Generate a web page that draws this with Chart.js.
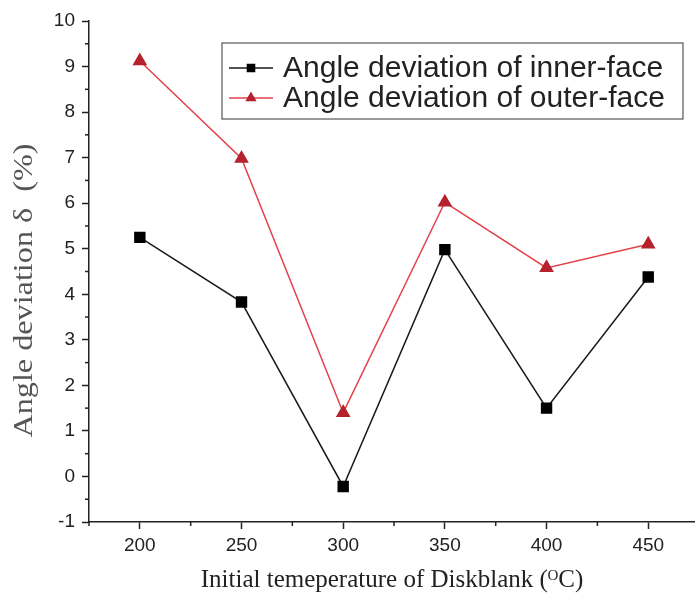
<!DOCTYPE html>
<html>
<head>
<meta charset="utf-8">
<script src="https://cdn.jsdelivr.net/npm/chart.js@4.4.1/dist/chart.umd.min.js"></script>
<style>
  html, body { margin: 0; padding: 0; background: #fff; overflow: hidden; }
  #wrap { width: 695px; height: 599px; }
</style>
</head>
<body>
<div id="wrap"><canvas id="chart"></canvas></div>
<script>
// data
const temperatures = [200, 250, 300, 350, 400, 450];
const innerFace = [5.25, 3.83, -0.22, 4.98, 1.5, 4.38];
const outerFace = [9.12, 6.98, 1.4, 6.02, 4.58, 5.1];
const seriesNames = ['Angle deviation of inner-face', 'Angle deviation of outer-face'];
const xLabelTicks = [200, 250, 300, 350, 400, 450];
const yLabelTicks = [-1, 0, 1, 2, 3, 4, 5, 6, 7, 8, 9, 10];
const yTitle = 'Angle deviation \u03B4  (%)';

const axisColor = '#222';

// short ticks between the labelled ones
const minorTicks = {
    id: 'minorTicks',
    afterDraw(chart) {
        const ctx = chart.ctx;
        const xs = chart.scales.x, ys = chart.scales.y;
        ctx.save();
        ctx.strokeStyle = axisColor;
        ctx.lineWidth = 1.5;
        xs.ticks.forEach(t => {
            if (xLabelTicks.includes(t.value)) return;
            const px = xs.getPixelForValue(t.value);
            ctx.beginPath();
            ctx.moveTo(px, xs.top);
            ctx.lineTo(px, xs.top + 4);
            ctx.stroke();
        });
        ys.ticks.forEach(t => {
            if (yLabelTicks.includes(t.value)) return;
            const py = ys.getPixelForValue(t.value);
            ctx.beginPath();
            ctx.moveTo(ys.right, py);
            ctx.lineTo(ys.right - 4, py);
            ctx.stroke();
        });
        ctx.restore();
    }
};

// rotated y title, a little wide like the original scan
const yAxisTitle = {
    id: 'yAxisTitle',
    afterDraw(chart) {
        const ctx = chart.ctx;
        const area = chart.chartArea;
        ctx.save();
        ctx.translate(25, (area.top + area.bottom) / 2 + 19);
        ctx.rotate(-Math.PI / 2);
        ctx.scale(1.15, 1);
        ctx.fillStyle = '#555';
        ctx.font = '28px "Liberation Serif", "Times New Roman", serif';
        ctx.textAlign = 'center';
        ctx.textBaseline = 'middle';
        ctx.fillText(yTitle, 0, 0);
        ctx.restore();
    }
};

// boxed legend inside the plot area
const boxLegend = {
    id: 'boxLegend',
    afterDraw(chart) {
        const ctx = chart.ctx;
        const area = chart.chartArea;
        const bx = area.left + 133, by = area.top + 22, bw = 461, bh = 76;
        ctx.save();
        ctx.strokeStyle = '#555';
        ctx.lineWidth = 1.2;
        ctx.strokeRect(bx, by, bw, bh);
        chart.data.datasets.forEach((ds, i) => {
            const cy = by + 25 + i * 30;
            ctx.strokeStyle = ds.borderColor;
            ctx.lineWidth = 1.5;
            ctx.beginPath();
            ctx.moveTo(bx + 7, cy);
            ctx.lineTo(bx + 51, cy);
            ctx.stroke();
            ctx.fillStyle = ds.pointBackgroundColor;
            ctx.strokeStyle = ds.pointBorderColor;
            Chart.helpers.drawPoint(ctx, {
                pointStyle: ds.pointStyle,
                radius: 5,
                borderWidth: 1
            }, bx + 29, cy);
            ctx.fillStyle = '#222';
            ctx.font = '30px "Liberation Sans", Arial, sans-serif';
            ctx.textBaseline = 'middle';
            ctx.textAlign = 'left';
            ctx.fillText(ds.label, bx + 61, cy + 1);
        });
        ctx.restore();
    }
};

new Chart(document.getElementById('chart'), {
    type: 'line',
    data: {
        datasets: [{
            label: seriesNames[0],
            data: temperatures.map((t, i) => ({ x: t, y: innerFace[i] })),
            borderColor: '#1a1a1a',
            borderWidth: 1.5,
            pointStyle: 'rect',
            pointRadius: 7,
            pointBackgroundColor: '#000',
            pointBorderColor: '#000',
            tension: 0
        }, {
            label: seriesNames[1],
            data: temperatures.map((t, i) => ({ x: t, y: outerFace[i] })),
            borderColor: '#e3424a',
            borderWidth: 1.5,
            pointStyle: 'triangle',
            pointRadius: 7,
            pointBackgroundColor: '#b5212c',
            pointBorderColor: '#b5212c',
            tension: 0
        }]
    },
    options: {
        responsive: true,
        maintainAspectRatio: false,
        animation: false,
        layout: { autoPadding: false, padding: { top: 21, right: 0, left: 0, bottom: 0 } },
        plugins: {
            legend: { display: false },
            tooltip: { enabled: false }
        },
        scales: {
            x: {
                type: 'linear',
                min: 175,
                max: 473,
                afterFit: s => { s.height = 77; },
                afterBuildTicks: s => {
                    s.ticks = [];
                    for (let v = 175; v <= s.max; v += 25) s.ticks.push({ value: v });
                },
                ticks: {
                    autoSkip: false,
                    maxRotation: 0,
                    padding: 5,
                    color: '#222',
                    font: { family: '"Liberation Sans", Arial, sans-serif', size: 19 },
                    callback: v => xLabelTicks.includes(v) ? String(v) : ''
                },
                grid: {
                    drawOnChartArea: false,
                    drawTicks: true,
                    tickLength: 7,
                    tickWidth: 1.5,
                    tickColor: c => xLabelTicks.includes(c.tick.value) ? axisColor : 'transparent'
                },
                border: { display: true, color: axisColor, width: 1.5 },
                title: {
                    display: true,
                    text: 'Initial temeperature of Diskblank (\u1D3CC)',
                    color: '#222',
                    font: { family: '"Liberation Serif", "Times New Roman", serif', size: 25 },
                    padding: { top: 2 }
                }
            },
            y: {
                min: -1,
                max: 10,
                afterFit: s => { s.width = 89; },
                afterBuildTicks: s => {
                    s.ticks = [];
                    for (let v = -1; v <= 10; v += 0.5) s.ticks.push({ value: v });
                },
                ticks: {
                    autoSkip: false,
                    padding: 7,
                    color: '#222',
                    font: { family: '"Liberation Sans", Arial, sans-serif', size: 19 },
                    callback: v => yLabelTicks.includes(v) ? String(v) : ''
                },
                grid: {
                    drawOnChartArea: false,
                    drawTicks: true,
                    tickLength: 7,
                    tickWidth: 1.5,
                    tickColor: c => yLabelTicks.includes(c.tick.value) ? axisColor : 'transparent'
                },
                border: { display: true, color: axisColor, width: 1.5 },
                title: { display: false }
            }
        }
    },
    plugins: [minorTicks, yAxisTitle, boxLegend]
});
</script>
</body>
</html>
